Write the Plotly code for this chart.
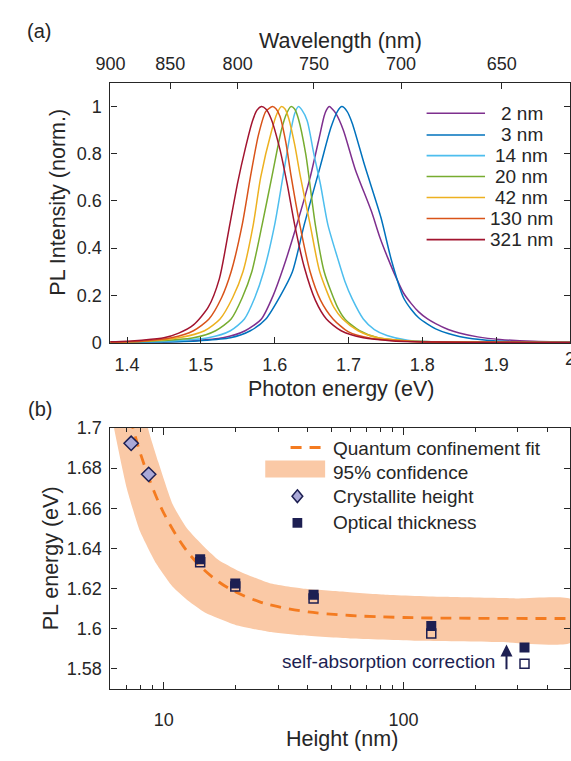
import plotly.graph_objects as go

# ---------------- data: panel (a) PL spectra ----------------
labels_a = ["2 nm", "3 nm", "14 nm", "20 nm", "42 nm", "130 nm", "321 nm"]
colors_a = ["#7E2F8E", "#0072BD", "#4DBEEE", "#77AC30", "#EDB120", "#D95319", "#A2142F"]

E_2 = [1.37, 1.44, 1.49, 1.53, 1.56, 1.582, 1.598, 1.612, 1.630, 1.648, 1.659, 1.667, 1.670, 1.674, 1.678, 1.683,
       1.693, 1.709, 1.731, 1.742, 1.753, 1.7645, 1.7745, 1.785, 1.795, 1.807, 1.818, 1.835, 1.85, 1.875, 1.905,
       1.95, 2.0]
I_2 = [0.001, 0.003, 0.008, 0.02, 0.05, 0.1, 0.2, 0.32, 0.5, 0.7, 0.85, 0.96, 0.985, 1.0, 0.99, 0.97,
       0.9, 0.735, 0.556, 0.45, 0.36, 0.275, 0.21, 0.165, 0.13, 0.1, 0.08, 0.055, 0.04, 0.024, 0.013,
       0.005, 0.002]

E_3 = [1.37, 1.44, 1.50, 1.54, 1.567, 1.588, 1.608, 1.624, 1.640, 1.662, 1.676, 1.685, 1.691, 1.698, 1.705, 1.722,
       1.744, 1.758, 1.7745, 1.785, 1.795, 1.807, 1.818, 1.835, 1.85, 1.875, 1.90, 1.95, 2.0]
I_3 = [0.001, 0.002, 0.008, 0.02, 0.05, 0.1, 0.2, 0.3, 0.5, 0.75, 0.91, 0.98, 1.0, 0.98, 0.93, 0.749,
       0.529, 0.35, 0.19, 0.14, 0.105, 0.078, 0.058, 0.038, 0.026, 0.014, 0.007, 0.002, 0.001]

E_14 = [1.37, 1.45, 1.51, 1.54, 1.559, 1.573, 1.585, 1.600, 1.611, 1.622, 1.627, 1.632, 1.637, 1.644, 1.653, 1.662,
        1.672, 1.685, 1.695, 1.705, 1.72, 1.735, 1.752, 1.78, 1.82, 1.9, 2.0]
I_14 = [0.001, 0.005, 0.02, 0.05, 0.1, 0.19, 0.3, 0.5, 0.7, 0.9, 0.97, 1.0, 0.985, 0.94, 0.8, 0.67,
        0.5, 0.36, 0.26, 0.185, 0.1, 0.055, 0.03, 0.01, 0.003, 0.001, 0.0]

E_20 = [1.37, 1.43, 1.49, 1.52, 1.541, 1.556, 1.569, 1.583, 1.596, 1.609, 1.616, 1.622, 1.627, 1.632, 1.642, 1.655,
        1.667, 1.685, 1.695, 1.715, 1.74, 1.78, 1.85, 2.0]
I_20 = [0.001, 0.005, 0.02, 0.05, 0.1, 0.19, 0.3, 0.5, 0.7, 0.9, 0.97, 1.0, 0.99, 0.95, 0.8, 0.5,
        0.3, 0.15, 0.1, 0.05, 0.02, 0.007, 0.002, 0.0]

E_42 = [1.37, 1.42, 1.47, 1.505, 1.526, 1.543, 1.557, 1.571, 1.581, 1.596, 1.603, 1.609, 1.614, 1.619, 1.627, 1.635,
        1.648, 1.661, 1.68, 1.692, 1.713, 1.74, 1.78, 1.85, 2.0]
I_42 = [0.002, 0.005, 0.02, 0.05, 0.1, 0.19, 0.3, 0.5, 0.7, 0.9, 0.97, 1.0, 0.99, 0.95, 0.84, 0.7,
        0.5, 0.3, 0.15, 0.1, 0.05, 0.02, 0.007, 0.002, 0.0]

E_130 = [1.37, 1.42, 1.46, 1.49, 1.511, 1.528, 1.541, 1.556, 1.567, 1.578, 1.588, 1.597, 1.602, 1.607, 1.615, 1.622,
         1.634, 1.648, 1.662, 1.679, 1.70, 1.73, 1.78, 1.85, 2.0]
I_130 = [0.002, 0.006, 0.02, 0.05, 0.1, 0.19, 0.3, 0.5, 0.7, 0.88, 0.98, 1.0, 0.99, 0.96, 0.85, 0.71,
         0.5, 0.3, 0.18, 0.1, 0.045, 0.018, 0.005, 0.001, 0.0]

E_321 = [1.37, 1.40, 1.42, 1.45, 1.47, 1.49, 1.51, 1.525, 1.538, 1.55, 1.56, 1.57, 1.576, 1.582, 1.588, 1.595,
         1.607, 1.617, 1.627, 1.64, 1.655, 1.67, 1.69, 1.72, 1.76, 1.82, 1.90, 2.0]
I_321 = [0.003, 0.006, 0.01, 0.02, 0.04, 0.075, 0.15, 0.27, 0.48, 0.68, 0.82, 0.94, 0.985, 1.0, 0.99, 0.95,
         0.82, 0.67, 0.5, 0.32, 0.18, 0.1, 0.05, 0.02, 0.007, 0.002, 0.001, 0.0]

spectra_E = [E_2, E_3, E_14, E_20, E_42, E_130, E_321]
spectra_I = [I_2, I_3, I_14, I_20, I_42, I_130, I_321]

wavelength_ticks = [900, 850, 800, 750, 700, 650]
energy_ticks = [1.4, 1.5, 1.6, 1.7, 1.8, 1.9, 2.0]
energy_ticktext = ["1.4", "1.5", "1.6", "1.7", "1.8", "1.9", "2"]
intensity_ticks = [0, 0.2, 0.4, 0.6, 0.8, 1.0]
intensity_ticktext = ["0", "0.2", "0.4", "0.6", "0.8", "1"]

# ---------------- data: panel (b) PL energy vs height ----------------
fit_L = [6, 6.5, 7, 7.5, 8, 9, 10, 12, 14, 17, 20, 25, 30, 40, 60, 100, 200, 500]
fit_E = [1.7514, 1.7297, 1.7126, 1.6987, 1.6873, 1.6701, 1.6577, 1.6416, 1.6319, 1.6232, 1.6182, 1.6134,
         1.6109, 1.6083, 1.6065, 1.6055, 1.6051, 1.6050]

band_upper_L = [6, 7, 8, 8.6, 9.5, 10.9, 12.5, 14.85, 17, 20.3, 27.7, 37.8, 55, 84, 150, 300, 500]
band_upper_E = [1.83, 1.765, 1.722, 1.70, 1.683, 1.662, 1.650, 1.6404, 1.634, 1.629, 1.6226, 1.620, 1.6185,
                1.6169, 1.6158, 1.615, 1.6145]
band_lower_L = [6, 6.21, 7.03, 7.96, 9.31, 10.88, 12.7, 14.85, 20.3, 27.7, 37.8, 60, 114, 250, 500]
band_lower_E = [1.712, 1.70, 1.6696, 1.6486, 1.6324, 1.621, 1.6137, 1.608, 1.6015, 1.5983, 1.5966, 1.595,
                1.5939, 1.5933, 1.593]

cryst_L = [7.32, 8.66]
cryst_E = [1.6924, 1.6769]

opt_L = [14.2, 19.9, 42.2, 130.7, 320]
opt_E = [1.6345, 1.6225, 1.6168, 1.6013, 1.5906]
opt_E_corr = [1.6330, 1.6210, 1.6150, 1.5975, 1.5824]

pl_ticks = [1.58, 1.60, 1.62, 1.64, 1.66, 1.68, 1.70]
pl_ticktext = ["1.58", "1.6", "1.62", "1.64", "1.66", "1.68", "1.7"]
height_ticks = [10, 100]
height_minor = [6, 7, 8, 9, 20, 30, 40, 50, 60, 70, 80, 90, 200, 300, 400]

# ---------------- styling ----------------
W, H = 571, 761
FONT = "Liberation Sans, Arial, Helvetica, sans-serif"
AX = "#262626"
NAVY = "#1d1f52"
LAV = "#aaa9d8"
PEACH = "#fac9a6"
ORANGE = "#f47b20"


def px(x):
    return x / W


def py(y):
    return 1 - y / H


fig = go.Figure()

for E, I, lab, col in zip(spectra_E, spectra_I, labels_a, colors_a):
    fig.add_trace(go.Scatter(x=E, y=I, mode="lines", name=lab,
                             line=dict(color=col, width=1.5, shape="spline", smoothing=0.7),
                             xaxis="x", yaxis="y", showlegend=False))
# empty trace so the wavelength (top) axis is created
fig.add_trace(go.Scatter(x=[1.5], y=[None], mode="lines", xaxis="x3", yaxis="y", showlegend=False, hoverinfo="skip"))

# band as closed polygon
fig.add_trace(go.Scatter(x=band_upper_L + band_lower_L[::-1], y=band_upper_E + band_lower_E[::-1],
                         mode="lines", fill="toself", fillcolor=PEACH,
                         line=dict(width=0, shape="spline", smoothing=0.5),
                         xaxis="x2", yaxis="y2", showlegend=False, hoverinfo="skip"))
fig.add_trace(go.Scatter(x=fit_L, y=fit_E, mode="lines",
                         line=dict(color=ORANGE, width=2.8, dash="11px,8px", shape="spline"),
                         xaxis="x2", yaxis="y2", showlegend=False))
fig.add_trace(go.Scatter(x=cryst_L, y=cryst_E, mode="markers",
                         marker=dict(symbol="diamond", size=11, color=LAV, line=dict(color=NAVY, width=1.5)),
                         xaxis="x2", yaxis="y2", showlegend=False))
fig.add_trace(go.Scatter(x=opt_L, y=opt_E_corr, mode="markers",
                         marker=dict(symbol="square-open", size=9, color=NAVY, line=dict(color=NAVY, width=1.5)),
                         xaxis="x2", yaxis="y2", showlegend=False))
fig.add_trace(go.Scatter(x=opt_L, y=opt_E, mode="markers",
                         marker=dict(symbol="square", size=10, color=NAVY, line=dict(width=0)),
                         xaxis="x2", yaxis="y2", showlegend=False))

tickfont = dict(family=FONT, size=18, color=AX)
xdom = [px(98), px(570)]
common = dict(showgrid=False, zeroline=False, showline=True, linecolor=AX, linewidth=1.2,
              ticks="inside", tickcolor=AX, tickwidth=1.2, tickfont=tickfont)
XR_A = [1.3775, 2.0]

fig.update_layout(
    width=W, height=H, margin=dict(l=0, r=0, t=0, b=0),
    paper_bgcolor="white", plot_bgcolor="white", showlegend=False,
    font=dict(family=FONT, color=AX),
    xaxis=dict(domain=xdom, anchor="y", range=XR_A, tickvals=energy_ticks[:-1], ticktext=energy_ticktext[:-1],
               ticklen=6, mirror=False, ticklabelstandoff=5, **common),
    xaxis3=dict(domain=xdom, anchor="y", overlaying="x", side="top", range=XR_A,
                tickvals=[1239.84 / w for w in wavelength_ticks], ticktext=[str(w) for w in wavelength_ticks],
                ticklen=6, ticklabelstandoff=5, **common),
    yaxis=dict(domain=[py(342), py(75)], anchor="x", range=[-0.002, 1.1], tickvals=intensity_ticks,
               ticktext=intensity_ticktext, ticklen=6, mirror="ticks", ticklabelstandoff=4, **common),
    xaxis2=dict(domain=xdom, anchor="y2", type="log", range=[0.778, 2.695], tickvals=height_ticks,
                ticktext=["10", "100"], ticklen=7, mirror="ticks", ticklabelstandoff=15,
                minor=dict(tickvals=height_minor, ticklen=4, ticks="inside", tickcolor=AX, tickwidth=1.2), **common),
    yaxis2=dict(domain=[py(697), py(429.3)], anchor="x2", range=[1.57, 1.70], tickvals=pl_ticks,
                ticktext=pl_ticktext, ticklen=6, mirror="ticks", ticklabelstandoff=4, **common),
)

ann = []
shapes = []
tf = dict(family=FONT, size=21.5, color=AX)
ann.append(dict(text="Wavelength (nm)", x=px(334.5), y=py(32), xref="paper", yref="paper", showarrow=False,
                xanchor="center", yanchor="middle", font=tf))
ann.append(dict(text="Photon energy (eV)", x=px(334.5), y=py(389), xref="paper", yref="paper", showarrow=False,
                xanchor="center", yanchor="middle", font=tf))
ann.append(dict(text="PL Intensity (norm.)", x=px(44), y=py(197), xref="paper", yref="paper", showarrow=False,
                xanchor="center", yanchor="middle", textangle=-90, font=tf))
ann.append(dict(text="PL energy (eV)", x=px(37), y=py(563), xref="paper", yref="paper", showarrow=False,
                xanchor="center", yanchor="middle", textangle=-90, font=tf))
ann.append(dict(text="Height (nm)", x=px(335.5), y=py(749), xref="paper", yref="paper", showarrow=False,
                xanchor="center", yanchor="middle", font=tf))
ann.append(dict(text="(a)", x=px(25), y=py(22), xref="paper", yref="paper", showarrow=False,
                xanchor="center", yanchor="middle", font=dict(family=FONT, size=20, color=AX)))
ann.append(dict(text="(b)", x=px(26), y=py(410), xref="paper", yref="paper", showarrow=False,
                xanchor="center", yanchor="middle", font=dict(family=FONT, size=20, color=AX)))
# last energy tick label sits on the right edge of the figure (cut, as in the original)
ann.append(dict(text=energy_ticktext[-1], x=energy_ticks[-1], y=py(358), xref="x", yref="paper", showarrow=False,
                xanchor="center", yanchor="middle", font=tickfont))

# legend (a)
lf = dict(family=FONT, size=19, color=AX)
rows_a = [106, 128.3, 149.6, 171, 192.6, 214.2, 235.8]
for lab, col, ry in zip(labels_a, colors_a, rows_a):
    shapes.append(dict(type="line", xref="paper", yref="paper", x0=px(422.7), x1=px(482.7), y0=py(ry), y1=py(ry),
                       line=dict(color=col, width=1.6)))
    ann.append(dict(text=lab, x=px(520.5), y=py(ry), xref="paper", yref="paper", showarrow=False,
                    xanchor="center", yanchor="middle", font=lf))

# legend (b)
shapes.append(dict(type="line", xref="paper", yref="paper", x0=px(283), x1=px(318.5), y0=py(449.3), y1=py(449.3),
                   line=dict(color=ORANGE, width=2.8, dash="11px,8px")))
shapes.append(dict(type="rect", xref="paper", yref="paper", x0=px(257), x1=px(318.5), y0=py(480), y1=py(462.7),
                   fillcolor=PEACH, line=dict(width=0)))
cx, cy = 290, 499.3
shapes.append(dict(type="path", xref="paper", yref="paper",
                   path=f"M {px(cx)} {py(cy-6.5)} L {px(cx+5.5)} {py(cy)} L {px(cx)} {py(cy+6.5)} L {px(cx-5.5)} {py(cy)} Z",
                   fillcolor=LAV, line=dict(color=NAVY, width=1.5)))
shapes.append(dict(type="rect", xref="paper", yref="paper", x0=px(285), x1=px(295), y0=py(531.7), y1=py(521.7),
                   fillcolor=NAVY, line=dict(width=0)))
for txt, ry in zip(["Quantum confinement fit", "95% confidence", "Crystallite height", "Optical thickness"],
                   [450, 474.5, 500, 526.5]):
    ann.append(dict(text=txt, x=px(325), y=py(ry), xref="paper", yref="paper", showarrow=False,
                    xanchor="left", yanchor="middle", font=lf))

# self-absorption annotation
ann.append(dict(text="self-absorption correction", x=2.39, y=1.5837, xref="x2", yref="y2", showarrow=False,
                xanchor="right", yanchor="middle", font=dict(family=FONT, size=19, color=NAVY)))
ann.append(dict(text="", x=2.43, y=1.5920, ax=2.43, ay=1.5790, xref="x2", yref="y2", axref="x2", ayref="y2",
                showarrow=True, arrowhead=2, arrowsize=1.2, arrowwidth=2, arrowcolor=NAVY))

fig.update_layout(annotations=ann, shapes=shapes)
fig.write_html("out.html", config={"displayModeBar": False},
               post_script="document.body.style.margin='0';document.body.style.overflow='hidden';")
